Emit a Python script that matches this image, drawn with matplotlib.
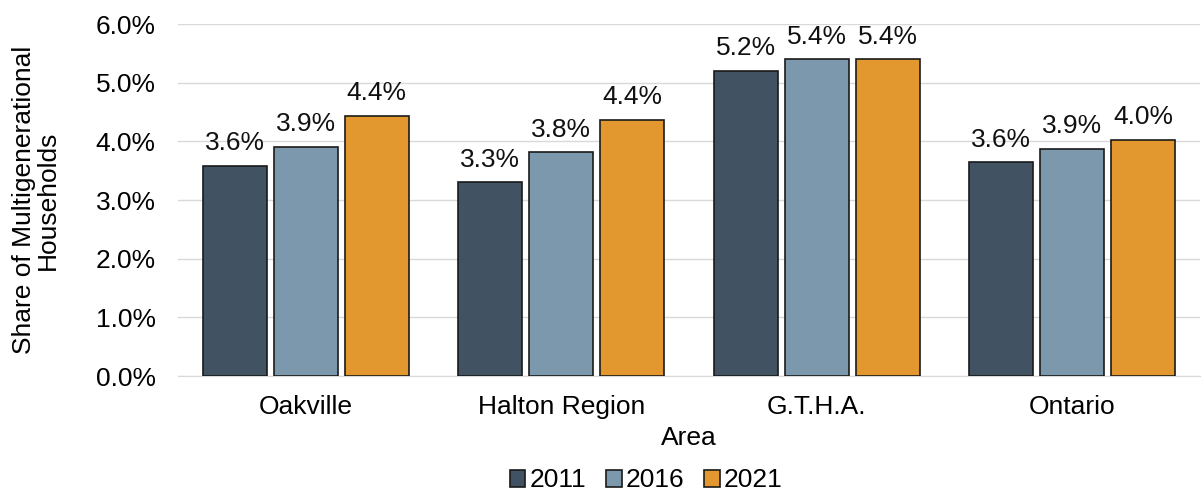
import matplotlib
matplotlib.use("Agg")
import matplotlib.pyplot as plt
import numpy as np

categories = ["Oakville", "Halton Region", "G.T.H.A.", "Ontario"]
years = ["2011", "2016", "2021"]
v2011 = [3.58, 3.3, 5.2, 3.64]
v2016 = [3.91, 3.81, 5.4, 3.87]
v2021 = [4.44, 4.37, 5.4, 4.03]
series = [v2011, v2016, v2021]
colors = ["#415262", "#7b98ac", "#e3982f"]

plt.rcParams['font.family'] = ['Liberation Sans', 'DejaVu Sans']
FS = 19
fig = plt.figure(figsize=(12.02, 4.94), dpi=100)
ax = fig.add_axes([178/1202, 1-376/494, 1022/1202, 352/494])

x = np.arange(len(categories))
w = 0.25
step = 0.278
for i, (vals, c, yr) in enumerate(zip(series, colors, years)):
    pos = x + (i - 1) * step
    ax.bar(pos, vals, w, color=c, edgecolor="#1a1a1a", linewidth=1.2, label=yr, zorder=3)
    for xb, v in zip(pos, vals):
        ax.text(xb, v + 0.18, f"{v:.1f}%", ha="center", va="bottom", fontsize=FS, color="#111111")

ax.set_xlim(-0.5, 3.5)
ax.set_ylim(0, 6)
ax.set_yticks(np.arange(0, 7, 1))
ax.set_yticklabels([f"{t:.1f}%" for t in range(7)], fontsize=FS)
ax.set_xticks(x)
ax.set_xticklabels(categories, fontsize=FS)
ax.tick_params(axis="y", length=0, pad=16)
ax.tick_params(axis="x", length=0, pad=14)
ax.yaxis.grid(True, color="#d9d9d9", linewidth=1, zorder=0)
for s in ["top", "right", "left"]:
    ax.spines[s].set_visible(False)
ax.spines["bottom"].set_color("#d9d9d9")
ax.set_xlabel("Area", fontsize=FS, labelpad=5)
ax.set_ylabel("Share of Multigenerational\nHouseholds", fontsize=FS, labelpad=26, linespacing=0.95)

leg = fig.legend(loc="lower center", bbox_to_anchor=(646/1202, -0.045), ncol=3, frameon=False,
                 fontsize=FS, handlelength=0.6, handleheight=0.6, handletextpad=0.15, columnspacing=0.75)
for p in leg.get_patches():
    p.set_edgecolor("#1a1a1a")

fig.savefig("out.png", dpi=100)
